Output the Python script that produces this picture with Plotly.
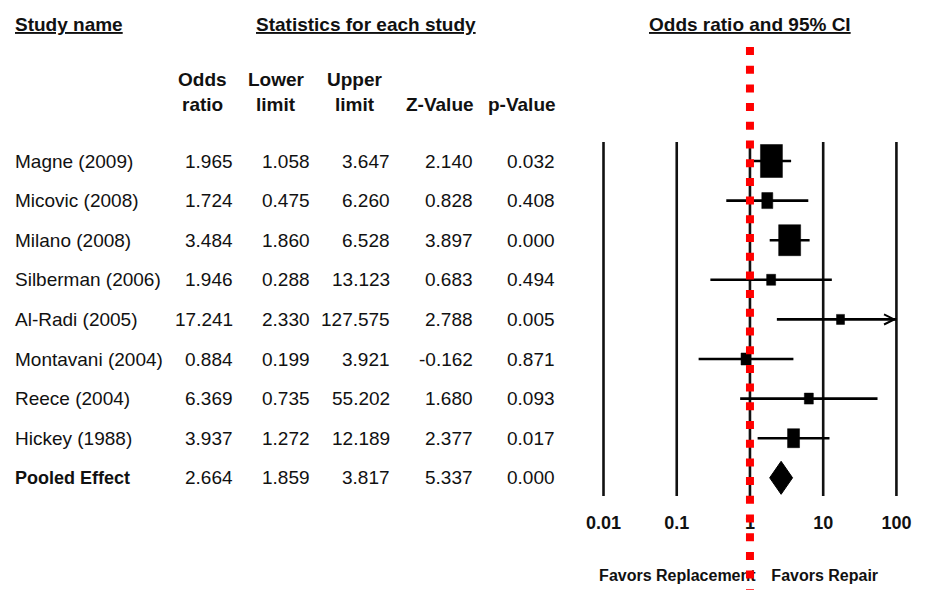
import math
import plotly.graph_objects as go

# ---------------- data ----------------
studies = ["Magne (2009)", "Micovic (2008)", "Milano (2008)", "Silberman (2006)",
           "Al-Radi (2005)", "Montavani (2004)", "Reece (2004)", "Hickey (1988)",
           "Pooled Effect"]
odds_ratio = [1.965, 1.724, 3.484, 1.946, 17.241, 0.884, 6.369, 3.937, 2.664]
lower_limit = [1.058, 0.475, 1.860, 0.288, 2.330, 0.199, 0.735, 1.272, 1.859]
upper_limit = [3.647, 6.260, 6.528, 13.123, 127.575, 3.921, 55.202, 12.189, 3.817]
z_value = [2.140, 0.828, 3.897, 0.683, 2.788, -0.162, 1.680, 2.377, 5.337]
p_value = [0.032, 0.408, 0.000, 0.494, 0.005, 0.871, 0.093, 0.017, 0.000]
tick_vals = [0.01, 0.1, 1, 10, 100]
tick_labels = ["0.01", "0.1", "1", "10", "100"]

# ---------------- styles ----------------
box_w = [22, 11, 22, 9, 8, 10, 9, 12]      # marker box width (px)
box_h = [33, 16, 31, 11, 10, 12, 11, 19]   # marker box height (px)
W, H = 937, 590
FONT = "Liberation Sans, Arial, sans-serif"
ROW0_PX, ROW_PX = 161, 39.6
XMIN, XMAX = -2.2, 2.2
DEC_PX = 73.23
X0_PX = 603.5 + XMIN * DEC_PX + 2 * DEC_PX  # pixel of range start

n = len(studies)
pooled = n - 1

def py(px):
    return 1 - px / H

fig = go.Figure()

# decade reference lines
lx, ly = [], []
for t in tick_vals:
    lx += [t, t, None]
    ly += [-0.48, 8.46, None]
fig.add_trace(go.Scatter(x=lx, y=ly, mode="lines",
                         line=dict(color="#111", width=2.6), hoverinfo="skip"))

# confidence intervals (clipped at axis max 100)
cx, cy = [], []
for i in range(pooled):
    cx += [lower_limit[i], min(upper_limit[i], tick_vals[-1]), None]
    cy += [i, i, None]
fig.add_trace(go.Scatter(x=cx, y=cy, mode="lines",
                         line=dict(color="#000", width=2.6), hoverinfo="skip"))

# study boxes (size from style lists, converted through the log scale)
bx, by = [], []
for i in range(pooled):
    k = 10 ** ((box_w[i] / 2) / DEC_PX)
    hh = (box_h[i] / 2) / ROW_PX
    xl, xr = odds_ratio[i] / k, odds_ratio[i] * k
    bx += [xl, xr, xr, xl, xl, None]
    by += [i - hh, i - hh, i + hh, i + hh, i - hh, None]
fig.add_trace(go.Scatter(x=bx, y=by, mode="lines", fill="toself", fillcolor="#000",
                         line=dict(color="#000", width=0.5), hoverinfo="skip"))

# pooled diamond
dh = 16.5 / ROW_PX
fig.add_trace(go.Scatter(
    x=[lower_limit[pooled], odds_ratio[pooled], upper_limit[pooled], odds_ratio[pooled], lower_limit[pooled]],
    y=[pooled, pooled - dh, pooled, pooled + dh, pooled],
    mode="lines", fill="toself", fillcolor="#000", line=dict(color="#000", width=1),
    hoverinfo="skip"))

# tick labels
fig.add_trace(go.Scatter(x=tick_vals, y=[9.19] * len(tick_vals), mode="text",
                         text=tick_labels, cliponaxis=False,
                         textfont=dict(family=FONT, size=18, color="#111", weight="bold"),
                         hoverinfo="skip"))
# favors labels
fig.add_trace(go.Scatter(x=[0.102, 10.5], y=[10.5, 10.5], mode="text",
                         text=["Favors Replacement", "Favors Repair"], cliponaxis=False,
                         textfont=dict(family=FONT, size=16, color="#111", weight="bold"),
                         hoverinfo="skip"))

# red dotted null line
fig.add_trace(go.Scatter(x=[1, 1], y=[(47 - ROW0_PX) / ROW_PX, 11.5], mode="lines",
                         line=dict(color="#ff0000", width=8, dash="8px,10.7px"),
                         hoverinfo="skip"))

ann = []
# arrow head for truncated CI
for i in range(pooled):
    if upper_limit[i] > tick_vals[-1]:
        ann.append(dict(x=math.log10(tick_vals[-1]), y=i, xref="x", yref="y",
                        ax=-8, ay=0, text="", showarrow=True, arrowhead=5,
                        arrowsize=1.0, arrowwidth=2, arrowcolor="#000"))

hdr_font = dict(family=FONT, size=19, color="#111", weight="bold")
hdr_u = dict(family=FONT, size=19, color="#111", weight="bold", lineposition="under")
ann.append(dict(x=13 / W, y=py(24), xref="paper", yref="paper", text="Study name",
                showarrow=False, xanchor="left", yanchor="middle", font=hdr_u))
ann.append(dict(x=366 / W, y=py(24), xref="paper", yref="paper", text="Statistics for each study",
                showarrow=False, xanchor="center", yanchor="middle", font=hdr_u))
ann.append(dict(x=750 / W, y=py(24), xref="paper", yref="paper", text="Odds ratio and 95% CI",
                showarrow=False, xanchor="center", yanchor="middle", font=hdr_u))

col_right = [235, 312, 392, 475, 557]
col_center = [202, 276, 355, 440, 522]
col_hdr1 = ["Odds", "Lower", "Upper", "", ""]
col_hdr2 = ["ratio", "limit", "limit", "Z-Value", "p-Value"]
for c in range(5):
    if col_hdr1[c]:
        ann.append(dict(x=col_center[c] / W, y=py(79), xref="paper", yref="paper",
                        text=col_hdr1[c], showarrow=False, xanchor="center",
                        yanchor="middle", font=hdr_font))
    ann.append(dict(x=col_center[c] / W, y=py(104), xref="paper", yref="paper",
                    text=col_hdr2[c], showarrow=False, xanchor="center",
                    yanchor="middle", font=hdr_font))

cols = [odds_ratio, lower_limit, upper_limit, z_value, p_value]
for i in range(n):
    bold = i == pooled
    f = dict(family=FONT, size=18 if bold else 19, color="#111",
             weight="bold" if bold else "normal")
    ann.append(dict(x=13 / W, y=i, xref="paper", yref="y", text=studies[i],
                    showarrow=False, xanchor="left", yanchor="middle", font=f))
    for c in range(5):
        ann.append(dict(x=col_right[c] / W, y=i, xref="paper", yref="y",
                        text=f"{cols[c][i]:.3f}", showarrow=False, xanchor="right",
                        yanchor="middle",
                        font=dict(family=FONT, size=19, color="#111")))

top_row = -ROW0_PX / ROW_PX
bot_row = (H - ROW0_PX) / ROW_PX
dom0 = X0_PX / W
dom1 = (X0_PX + (XMAX - XMIN) * DEC_PX) / W

fig.update_layout(
    width=W, height=H, margin=dict(l=0, r=0, t=0, b=0),
    paper_bgcolor="white", plot_bgcolor="white", showlegend=False,
    xaxis=dict(type="log", range=[XMIN, XMAX], domain=[dom0, dom1], visible=False),
    yaxis=dict(range=[bot_row, top_row], domain=[0, 1], visible=False),
    annotations=ann,
)
fig.write_html("out.html")
